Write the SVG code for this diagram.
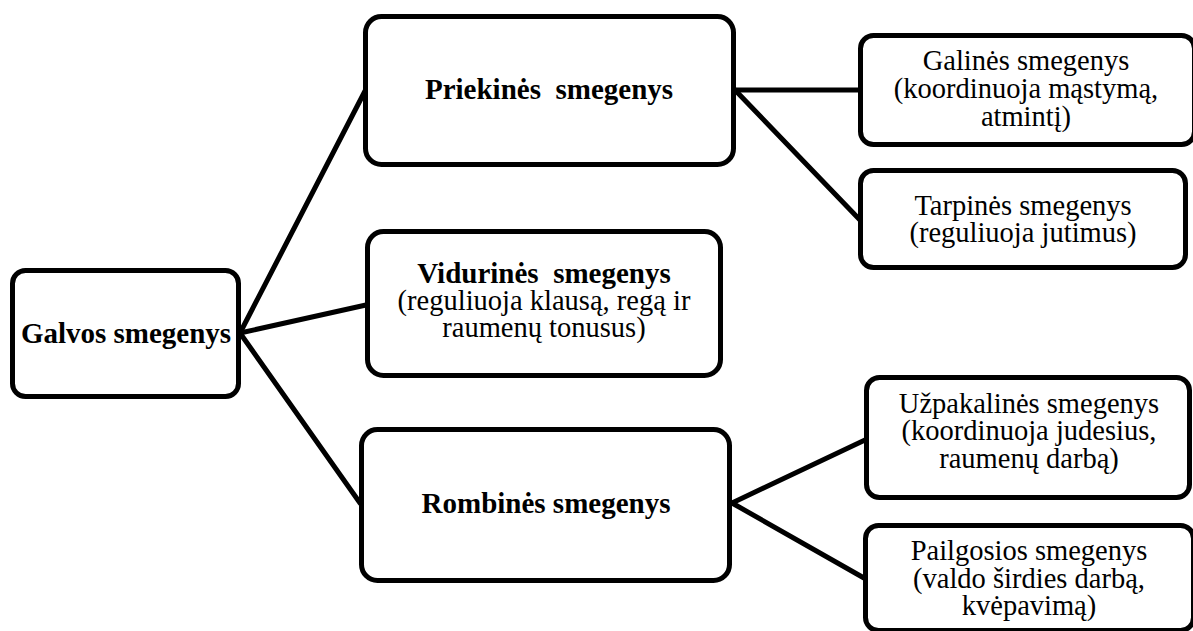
<svg xmlns="http://www.w3.org/2000/svg" width="1193" height="631" viewBox="0 0 1193 631">
<style>
.box{fill:#fff;stroke:#000;stroke-width:5}
.con line{stroke:#000;stroke-width:5;stroke-linecap:round}
text{font-family:"Liberation Serif","Times New Roman",serif;fill:#000;text-anchor:middle}
.b{font-weight:bold;font-size:29px}
.r{font-size:28.5px}
</style>
<rect width="1193" height="631" fill="#fff"/>
<g class="con" id="connectors">
<line x1="240" y1="333" x2="365" y2="91"/>
<line x1="240" y1="333" x2="366" y2="305"/>
<line x1="240" y1="333" x2="360" y2="503"/>
<line x1="735" y1="90" x2="860" y2="90"/>
<line x1="735" y1="90" x2="860" y2="220"/>
<line x1="732" y1="503" x2="865" y2="440"/>
<line x1="732" y1="503" x2="864" y2="578"/>
</g>
<g id="galvos">
<rect class="box" x="12.5" y="270.5" width="226" height="126" rx="13"/>
<text class="b" x="126" y="343">Galvos smegenys</text>
</g>
<g id="priekines">
<rect class="box" x="365.5" y="16.5" width="368" height="148" rx="16"/>
<text class="b" x="549" y="99" xml:space="preserve">Priekinės  smegenys</text>
</g>
<g id="vidurines">
<rect class="box" x="367.5" y="231.5" width="353" height="144" rx="16"/>
<text class="b" x="544" y="283" xml:space="preserve">Vidurinės  smegenys</text>
<text class="r" x="544" y="310">(reguliuoja klausą, regą ir</text>
<text class="r" x="544" y="337">raumenų tonusus)</text>
</g>
<g id="rombines">
<rect class="box" x="361.5" y="429.5" width="368" height="151" rx="16"/>
<text class="b" x="546" y="513">Rombinės smegenys</text>
</g>
<g id="galines">
<rect class="box" x="860.5" y="35.5" width="334" height="109" rx="13"/>
<text class="r" x="1026" y="70">Galinės smegenys</text>
<text class="r" x="1026" y="98">(koordinuoja mąstymą,</text>
<text class="r" x="1026" y="126">atmintį)</text>
</g>
<g id="tarpines">
<rect class="box" x="860.5" y="170.5" width="325" height="97" rx="13"/>
<text class="r" x="1023" y="215">Tarpinės smegenys</text>
<text class="r" x="1023" y="242">(reguliuoja jutimus)</text>
</g>
<g id="uzpakalines">
<rect class="box" x="866.5" y="377.5" width="323" height="120" rx="13"/>
<text class="r" x="1029" y="413">Užpakalinės smegenys</text>
<text class="r" x="1029" y="440">(koordinuoja judesius,</text>
<text class="r" x="1029" y="468">raumenų darbą)</text>
</g>
<g id="pailgosios">
<rect class="box" x="865.5" y="525.5" width="328" height="105" rx="13"/>
<text class="r" x="1029" y="560">Pailgosios smegenys</text>
<text class="r" x="1029" y="588">(valdo širdies darbą,</text>
<text class="r" x="1029" y="615">kvėpavimą)</text>
</g>
</svg>
